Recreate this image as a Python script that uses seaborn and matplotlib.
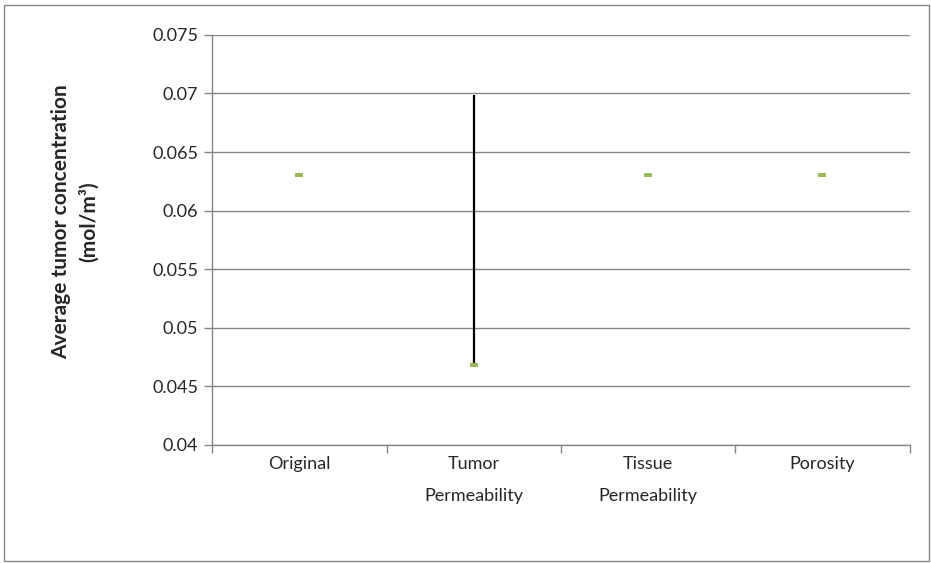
import matplotlib.pyplot as plt
import matplotlib.patches as mpatches
import seaborn as sns
import numpy as np

categories = ["Original", "Tumor\nPermeability", "Tissue\nPermeability", "Porosity"]
concentration = [0.0630, 0.0468, 0.0630, 0.0630]
err_minus = [0.0, 0.0, 0.0, 0.0]
err_plus = [0.0, 0.0231, 0.0, 0.0]
yticks = [0.04, 0.045, 0.05, 0.055, 0.06, 0.065, 0.07, 0.075]
yticklabels = ["0.04", "0.045", "0.05", "0.055", "0.06", "0.065", "0.07", "0.075"]

sns.set_style("white")
plt.rcParams['font.family'] = ['Lato', 'DejaVu Sans']

fig = plt.figure(figsize=(9.31, 5.63), dpi=100)
ax = fig.add_axes([0.228, 0.21, 0.749, 0.728])

# error bar first so the marker sits on top
ax.errorbar(np.arange(len(categories)), concentration, yerr=[err_minus, err_plus],
            fmt="none", ecolor="black", elinewidth=1.6, capsize=0, zorder=2)
dash = [(-1, -0.5), (1, -0.5), (1, 0.5), (-1, 0.5)]
sns.scatterplot(x=categories, y=concentration, ax=ax, marker=dash, s=28,
                color="#9BBB59", edgecolor="#9BBB59", linewidth=0, zorder=3)

ax.set_ylim(0.04, 0.075)
ax.set_xlim(-0.5, len(categories) - 0.5)
ax.set_yticks(yticks)
ax.set_yticklabels(yticklabels)
ax.set_xticks(range(len(categories)))
ax.set_xticklabels(categories, linespacing=2.25, va="top")
ax.set_xticks(np.arange(-0.5, len(categories), 1.0), minor=True)
ax.tick_params(axis="x", which="major", length=0, pad=8, labelsize=13)
ax.tick_params(axis="x", which="minor", length=6, color="#868686", width=1, bottom=True)
ax.tick_params(axis="y", length=6, color="#868686", width=1, left=True, labelsize=13, pad=4)
ax.grid(axis="y", color="#868686", linewidth=1)
ax.set_axisbelow(True)

for side in ["top", "right"]:
    ax.spines[side].set_visible(False)
for side in ["left", "bottom"]:
    ax.spines[side].set_color("#868686")
    ax.spines[side].set_linewidth(1)

ax.set_ylabel("Average tumor concentration\n(mol/m³)", fontsize=15, fontweight="bold",
              linespacing=1.45)
ax.yaxis.set_label_coords(-0.163, 0.545)

# outer chart border
fig.patches.append(mpatches.Rectangle((0.004, 0.004), 0.994, 0.988, transform=fig.transFigure,
                                      fill=False, edgecolor="#868686", linewidth=1))

plt.savefig("out.png", dpi=100)
